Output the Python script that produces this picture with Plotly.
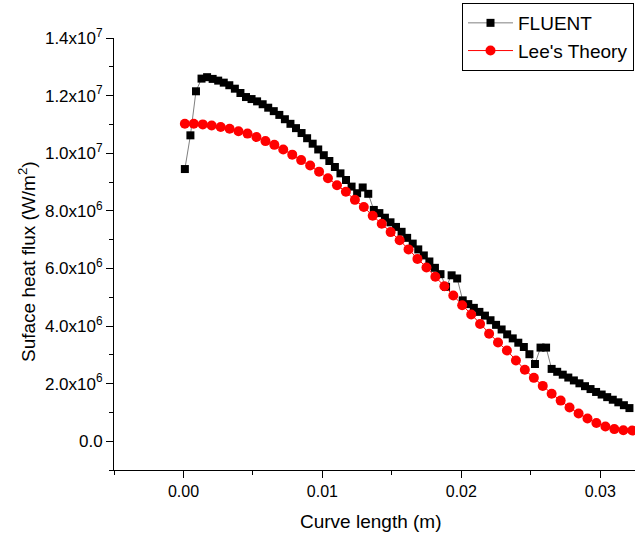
import plotly.graph_objects as go

# FLUENT (black squares)
fluent_x = [0.0001, 0.0005, 0.0009, 0.0013, 0.0017, 0.0021, 0.0025, 0.0029, 0.0033, 0.0037,
            0.0041, 0.0045, 0.0049, 0.0053, 0.0057, 0.0061, 0.0065, 0.0069, 0.0073, 0.0077,
            0.0081, 0.0085, 0.0089, 0.0093, 0.0097, 0.0101, 0.0105, 0.0109, 0.0113, 0.0117,
            0.0121, 0.0125, 0.0129, 0.0133, 0.0137, 0.0141, 0.0145, 0.0149, 0.0153, 0.0157,
            0.0161, 0.0165, 0.0169, 0.0173, 0.0177, 0.0181, 0.0185, 0.0189, 0.0193, 0.0197,
            0.0201, 0.0205, 0.0209, 0.0213, 0.0217, 0.0221, 0.0225, 0.0229, 0.0233, 0.0237,
            0.0241, 0.0245, 0.0249, 0.0253, 0.0257, 0.0261, 0.0265, 0.0269, 0.0273, 0.0277,
            0.0281, 0.0285, 0.0289, 0.0293, 0.0297, 0.0301, 0.0305, 0.0309, 0.0313, 0.0317,
            0.0321]
fluent_y = [9.45, 10.62, 12.15, 12.59, 12.64, 12.58, 12.52, 12.45, 12.36, 12.24,
            12.09, 11.95, 11.88, 11.80, 11.70, 11.58, 11.46, 11.33, 11.18, 11.02,
            10.87, 10.70, 10.52, 10.33, 10.13, 9.93, 9.73, 9.52, 9.30, 9.07,
            8.84, 8.61, 8.81, 8.59, 8.03, 7.92, 7.76, 7.60, 7.44, 7.27,
            7.06, 6.86, 6.66, 6.45, 6.24, 6.02, 5.80, 5.36, 5.76, 5.65,
            4.89, 4.76, 4.63, 4.49, 4.36, 4.20, 4.04, 3.88, 3.71, 3.57,
            3.42, 3.27, 3.02, 2.68, 3.25, 3.25, 2.51, 2.41, 2.31, 2.21,
            2.11, 2.01, 1.91, 1.81, 1.71, 1.62, 1.53, 1.44, 1.35, 1.25,
            1.15]

# Lee's Theory (red circles)
lee_x = [0.0001, 0.00074, 0.00139, 0.00203, 0.00268, 0.00332, 0.00396, 0.00461, 0.00525, 0.0059,
         0.00654, 0.00718, 0.00783, 0.00847, 0.00912, 0.00976, 0.0104, 0.01105, 0.01169, 0.01234,
         0.01298, 0.01362, 0.01427, 0.01491, 0.01556, 0.0162, 0.01684, 0.01749, 0.01813, 0.01878,
         0.01942, 0.02006, 0.02071, 0.02135, 0.022, 0.02264, 0.02328, 0.02393, 0.02457, 0.02522,
         0.02586, 0.0265, 0.02715, 0.02779, 0.02844, 0.02908, 0.02972, 0.03037, 0.03101, 0.03166,
         0.0323]
lee_y = [11.02, 11.02, 11.00, 10.96, 10.91, 10.85, 10.76, 10.68, 10.56, 10.42,
         10.29, 10.13, 9.95, 9.76, 9.57, 9.36, 9.13, 8.89, 8.66, 8.38,
         8.13, 7.83, 7.55, 7.26, 6.98, 6.66, 6.33, 6.03, 5.71, 5.38,
         5.06, 4.72, 4.40, 4.07, 3.73, 3.43, 3.15, 2.80, 2.48, 2.20,
         1.92, 1.65, 1.41, 1.17, 0.96, 0.79, 0.63, 0.51, 0.42, 0.38,
         0.37]

y_tickvals = [0, 2e6, 4e6, 6e6, 8e6, 1e7, 1.2e7, 1.4e7]
y_ticktext = ["0.0", "2.0x10<sup>6</sup>", "4.0x10<sup>6</sup>", "6.0x10<sup>6</sup>",
              "8.0x10<sup>6</sup>", "1.0x10<sup>7</sup>", "1.2x10<sup>7</sup>", "1.4x10<sup>7</sup>"]
y_minor = [-1e6, 1e6, 3e6, 5e6, 7e6, 9e6, 1.1e7, 1.3e7]
x_tickvals = [0.0, 0.01, 0.02, 0.03]
x_ticktext = ["0.00", "0.01", "0.02", "0.03"]
x_minor = [-0.005, 0.005, 0.015, 0.025]

FONT = "Arial, Liberation Sans, sans-serif"
W, H = 635, 533

fig = go.Figure()
fig.add_trace(go.Scatter(
    x=fluent_x, y=[v * 1e6 for v in fluent_y], name="FLUENT", mode="lines+markers",
    line=dict(color="#808080", width=1),
    marker=dict(symbol="square", size=8, color="black"),
))
fig.add_trace(go.Scatter(
    x=lee_x, y=[v * 1e6 for v in lee_y], name="Lee's Theory", mode="lines+markers",
    line=dict(color="#ff0000", width=1),
    marker=dict(symbol="circle", size=10, color="#ff0000"),
))

fig.update_layout(
    width=W, height=H,
    margin=dict(l=114, r=0, t=38, b=63, autoexpand=False),
    paper_bgcolor="white", plot_bgcolor="white",
    font=dict(family=FONT, size=16, color="black"),
    showlegend=True,
    legend=dict(
        xref="container", yref="container",
        x=462 / W, y=1 - 3 / H, xanchor="left", yanchor="top",
        bordercolor="black", borderwidth=1, bgcolor="white",
        font=dict(family=FONT, size=19, color="black"),
        tracegroupgap=0, itemwidth=45,
    ),
    xaxis=dict(
        range=[-0.005, 0.0325],
        tickmode="array", tickvals=x_tickvals, ticktext=x_ticktext,
        ticks="outside", ticklen=7, tickwidth=1, tickcolor="black",
        showline=True, linecolor="black", linewidth=1,
        showgrid=False, zeroline=False,
        tickfont=dict(family=FONT, size=16),
        minor=dict(tickmode="array", tickvals=x_minor, ticks="outside", ticklen=4,
                   tickcolor="black", showgrid=False),
    ),
    yaxis=dict(
        range=[-1e6, 1.4e7],
        tickmode="array", tickvals=y_tickvals, ticktext=y_ticktext,
        ticks="outside", ticklen=7, tickwidth=1, tickcolor="black",
        showline=True, linecolor="black", linewidth=1,
        showgrid=False, zeroline=False,
        tickfont=dict(family=FONT, size=17),
        minor=dict(tickmode="array", tickvals=y_minor, ticks="outside", ticklen=4,
                   tickcolor="black", showgrid=False),
    ),
    annotations=[
        dict(text="Curve length (m)", xref="paper", yref="paper",
             x=(371 - 114) / (W - 114), y=-(521 - 470) / 432,
             xanchor="center", yanchor="middle", showarrow=False,
             font=dict(family=FONT, size=19, color="black")),
        dict(text="Suface heat flux (W/m<sup>2</sup>)", xref="paper", yref="paper",
             x=-(114 - 27) / (W - 114), y=(470 - 262) / 432,
             xanchor="center", yanchor="middle", showarrow=False, textangle=-90,
             font=dict(family=FONT, size=19, color="black")),
    ],
)

fig.write_html("out.html")
